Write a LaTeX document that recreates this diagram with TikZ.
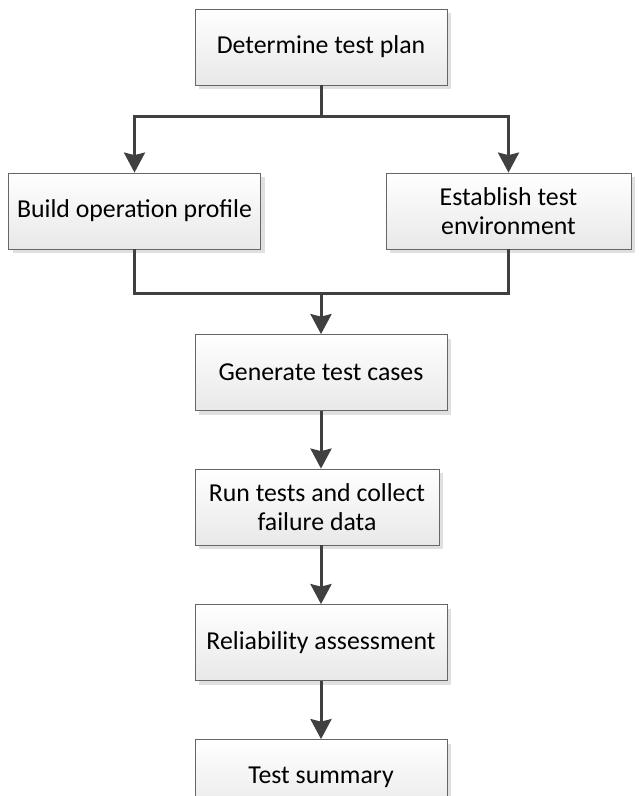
\documentclass[tikz,border=0pt]{standalone}
\usepackage{fontspec}
\setmainfont{Carlito}
\usetikzlibrary{arrows.meta}
\usetikzlibrary{shadows}
\tikzset{
	fc_box/.style = {rectangle, draw=black!60, line width=0.8pt, align=center,
		top color=white, bottom color=black!9,
		drop shadow={shadow xshift=4pt, shadow yshift=-4pt, fill=black!12, opacity=1},
		minimum width=252pt, minimum height=76pt, inner sep=2pt,
		font=\fontsize{25.8}{28.5}\selectfont},% process box
	fc_line/.style = {draw=black!75, line width=3pt, miter limit=10},% connector
	fc_arrow/.style = {fc_line, -{Stealth[length=20pt, width=21pt, inset=2.5pt]}}% connector with tip
}
\begin{document}
\begin{tikzpicture}[x=1pt, y=-1pt]
	\useasboundingbox (0,0) rectangle (638,796);
	\node [fc_box] (plan) at (321,47) {Determine test plan};
	\node [fc_box] (build) at (134.5,211) {Build operation profile};
	\node [fc_box, minimum width=245pt] (env) at (508.5,211) {Establish test\\environment};
	\node [fc_box] (gen) at (321,372.5) {Generate test cases};
	\node [fc_box, minimum width=244pt] (run) at (317,507) {Run tests and collect\\failure data};
	\node [fc_box] (rel) at (321,642.5) {Reliability assessment};
	\node [fc_box] (sum) at (321,777.5) {Test summary};
	% split and merge points
	\coordinate (split) at (321,116);
	\coordinate (merge) at (321,293);
	\draw [fc_line] (plan.south) -- (split);
	\draw [fc_arrow] (split) -| (build.north);
	\draw [fc_arrow] (split) -| (env.north);
	\draw [fc_line] (build.south) |- (merge);
	\draw [fc_line] (env.south) |- (merge);
	\draw [fc_arrow] (merge) -- (gen.north);
	\draw [fc_arrow] (gen.south) -- (gen.south |- run.north);
	\draw [fc_arrow] (gen.south |- run.south) -- (rel.north);
	\draw [fc_arrow] (rel.south) -- (sum.north);
\end{tikzpicture}
\end{document}
